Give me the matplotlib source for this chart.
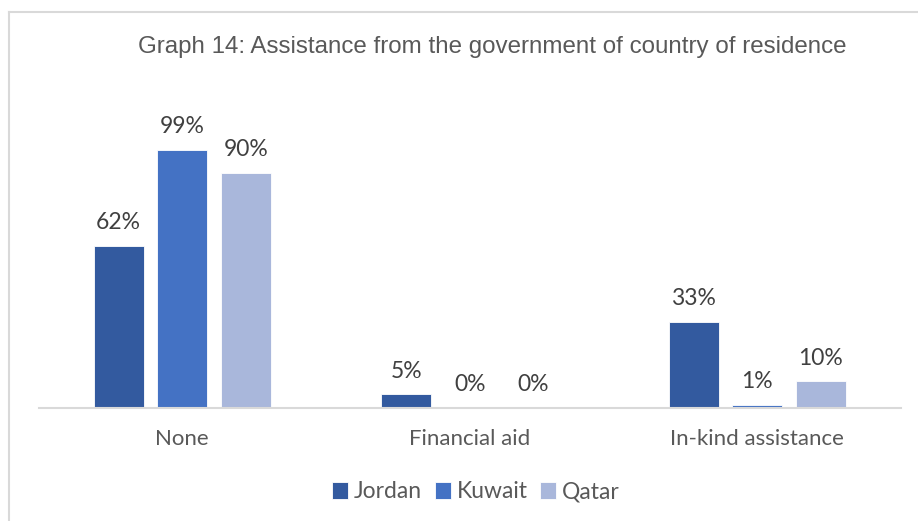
import matplotlib
matplotlib.use("Agg")
import matplotlib.pyplot as plt
import numpy as np
from matplotlib.lines import Line2D

categories = ["None", "Financial aid", "In-kind assistance"]
series_names = ["Jordan", "Kuwait", "Qatar"]
jordan = [62, 5, 33]
kuwait = [99, 0, 1]
qatar = [90, 0, 10]
values = [jordan, kuwait, qatar]
colors = ["#335A9F", "#4472C4", "#A9B7DB"]
title = "Graph 14: Assistance from the government of country of residence"

W, H = 918, 521
fig = plt.figure(figsize=(W / 100, H / 100), dpi=100)
fig.patch.set_facecolor("white")

# border (only top and left visible in crop)
fig.add_artist(Line2D([9 / W, 9 / W], [0, 1 - 12 / H], transform=fig.transFigure, color="#D9D9D9", lw=1.5))
fig.add_artist(Line2D([9 / W, 1], [1 - 12 / H, 1 - 12 / H], transform=fig.transFigure, color="#D9D9D9", lw=1.5))

ax_left, ax_right = 38.5, 901
y0 = 407.5
ymax = 120
px_per = 258 / 99
ax_top = y0 - ymax * px_per
ax = fig.add_axes([ax_left / W, (H - y0) / H, (ax_right - ax_left) / W, (y0 - ax_top) / H])

x = np.arange(len(categories))
bw = 50 / 287
off = 63.5 / 287
for i, (name, vals, c) in enumerate(zip(series_names, values, colors)):
    pos = x + (i - 1) * off
    ax.bar(pos, vals, width=bw, color=c, label=name, edgecolor="white", linewidth=0.6)
    for p, v in zip(pos, vals):
        ax.annotate(f"{v}%", (p, v), xytext=(0, 9), textcoords="offset points",
                    ha="center", va="bottom", fontsize=16.5, family="Lato", color="#404040")

ax.set_xlim(-0.5, 2.5)
ax.set_ylim(0, ymax)
for s in ["top", "right", "left"]:
    ax.spines[s].set_visible(False)
ax.spines["bottom"].set_color("#D9D9D9")
ax.spines["bottom"].set_linewidth(1.5)
ax.set_yticks([])
ax.set_xticks(x)
ax.set_xticklabels(categories, family="Lato", fontsize=16, color="#595959")
ax.tick_params(axis="x", length=0, pad=15.5)

fig.text(492 / W, 1 - 47.5 / H, title, ha="center", va="center", fontsize=17.4,
         family="Liberation Sans", color="#595959")

leg = fig.legend(loc="center", bbox_to_anchor=(476 / W, 1 - 492 / H), ncol=3, frameon=False,
                 prop={"family": "Lato", "size": 16.5}, handlelength=0.7, handleheight=0.7,
                 handletextpad=0.25, columnspacing=0.55)
for t in leg.get_texts():
    t.set_color("#595959")

fig.savefig("out.png", dpi=100)
